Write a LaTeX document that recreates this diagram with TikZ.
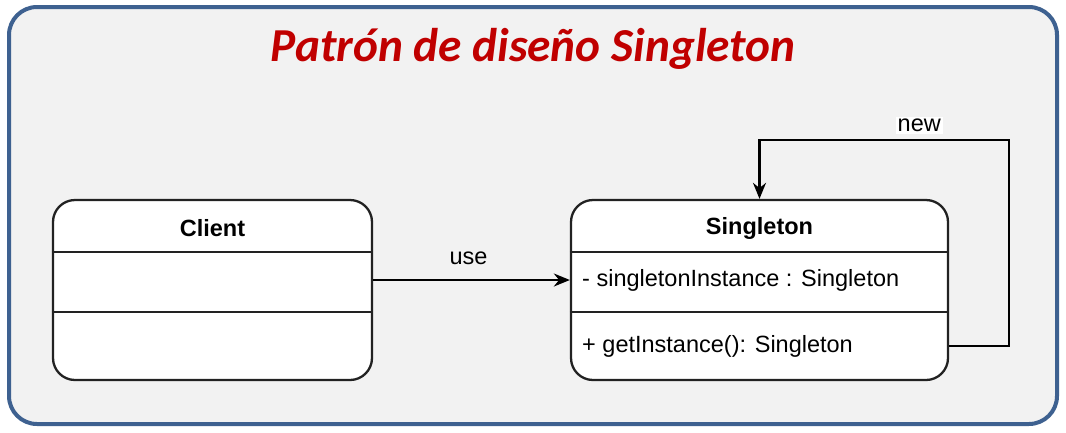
\documentclass[tikz,border=0pt]{standalone}
\usepackage{fontspec}
\setmainfont{Liberation Sans}
\newfontfamily\titlefont{Carlito}
\usetikzlibrary{arrows.meta,positioning}
\definecolor{SgFrame}{HTML}{3E6190}
\definecolor{SgPaper}{HTML}{F2F2F2}
\definecolor{SgRed}{HTML}{C00000}
\definecolor{SgInk}{HTML}{222222}
\tikzset{
  sgclass/.style={
    draw=SgInk,
    fill=white,
    line width=2.3pt,
    rounded corners=22pt,
    minimum height=180pt,
    inner sep=0pt
  },
  sgrule/.style={draw=SgInk,line width=2.3pt},
  sgname/.style={font=\fontsize{23.5}{28}\selectfont\bfseries},
  sgmember/.style={font=\fontsize{23.5}{28}\selectfont,anchor=west,inner sep=0pt},
  sglabel/.style={font=\fontsize{23.5}{28}\selectfont},
  sgarrow/.style={-{Stealth[length=16pt,width=13pt]},line width=2.2pt,draw=black}
}

\begin{document}
\begin{tikzpicture}[x=1pt,y=-1pt]
        \useasboundingbox (0,0) rectangle (1066,432);
        \draw[SgFrame,fill=SgPaper,line width=4pt,rounded corners=28pt] (9,7) rectangle (1057,424);
        \node[font=\titlefont\fontsize{47.3}{56}\selectfont\bfseries\itshape,text=SgRed] (title) at (533,49) {Patrón de diseño Singleton};

        % class boxes
        \node[sgclass,minimum width=319pt] (client) at (212.5,290) {};
        \node[sgclass,minimum width=377pt] (singleton) at (759.5,290) {};
        \draw[sgrule] ([yshift=-53pt]client.north west) -- ([yshift=-53pt]client.north east);
        \draw[sgrule] ([yshift=-113pt]client.north west) -- ([yshift=-113pt]client.north east);
        \draw[sgrule] ([yshift=-53pt]singleton.north west) -- ([yshift=-53pt]singleton.north east);
        \draw[sgrule] ([yshift=-113pt]singleton.north west) -- ([yshift=-113pt]singleton.north east);

        \node[sgname] (clientname) at (212.5,228) {Client};
        \node[sgname] (singletonname) at (759.5,228) {Singleton};
        \node[sgmember] (field) at (582,280) {- singletonInstance : Singleton};
        \node[sgmember] (method) at (582,346) {+ getInstance(): Singleton};

        % connectors
        \draw[sgarrow] (client.east |- field.west) -- (field.west -| singleton.west)
          node[sglabel,midway,above=11pt,xshift=-3pt] (uselabel) {use};
        \coordinate (looptop) at ([yshift=59pt]singleton.north);
        \draw[sgarrow] (singleton.east |- method.west) -- ++(60,0) |- (looptop)
          node[sglabel,pos=0.68,above=5pt,fill=white,inner sep=2pt] (newlabel) {new} -- (singleton.north);
      \end{tikzpicture}
\end{document}
